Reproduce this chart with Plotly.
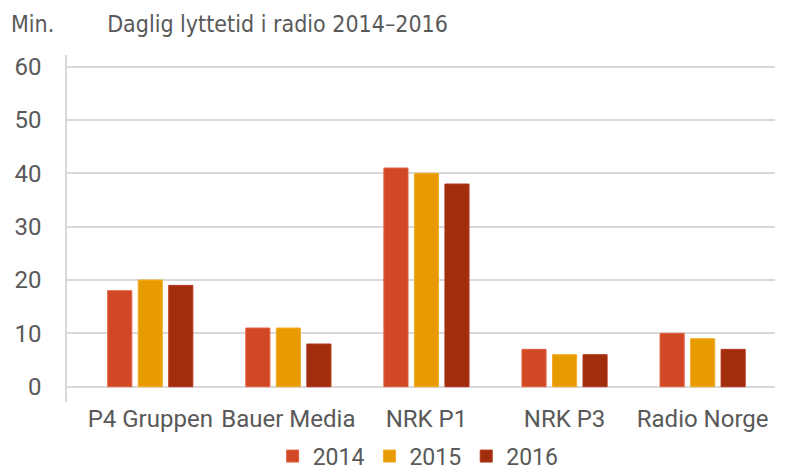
import plotly.graph_objects as go

categories = ["P4 Gruppen", "Bauer Media", "NRK P1", "NRK P3", "Radio Norge"]
years = ["2014", "2015", "2016"]
values_2014 = [18, 11, 41, 7, 10]
values_2015 = [20, 11, 40, 6, 9]
values_2016 = [19, 8, 38, 6, 7]
y_ticks = [0, 10, 20, 30, 40, 50, 60]

series = [values_2014, values_2015, values_2016]
fills = ["#D14826", "#E89B00", "#A02D0C"]
outlines = ["#E2603F", "#F2AC2A", "#B5381A"]

fig = go.Figure()
for name, vals, fc, lc in zip(years, series, fills, outlines):
    fig.add_trace(go.Bar(
        x=categories, y=vals, name=name,
        marker=dict(color=fc, line=dict(color=lc, width=1)),
    ))

gray = "#595959"
title_font = "DejaVu Sans Condensed, Roboto, sans-serif"
fig.update_layout(
    width=779, height=467,
    margin=dict(l=59, r=12, t=47, b=73, autoexpand=False),
    paper_bgcolor="white", plot_bgcolor="white",
    barmode="group", bargap=0.337, bargroupgap=0.21,
    font=dict(family="Roboto", color=gray),
    title=dict(
        text="Daglig lyttetid i radio 2014\u20132016",
        x=0.346, xanchor="center", xref="container",
        y=0.9657, yanchor="middle", yref="container",
        font=dict(family=title_font, size=23, color=gray),
    ),
    showlegend=True,
    legend=dict(
        orientation="h", x=0.496, xanchor="center", y=-0.156, yanchor="middle",
        font=dict(size=23, color=gray), traceorder="normal",
        itemwidth=30,
    ),
    xaxis=dict(
        range=[-0.603, 4.524], showgrid=False, showline=False, zeroline=False,
        tickfont=dict(size=24, color=gray), ticks="", automargin=False,
    ),
    yaxis=dict(
        range=[-2.87, 62.19], tickvals=y_ticks,
        showgrid=True, gridcolor="#D9D9D9", gridwidth=1.6,
        zeroline=True, zerolinecolor="#D9D9D9", zerolinewidth=1.6,
        showline=True, linecolor="#D9D9D9", linewidth=1.6,
        ticks="outside", ticklen=19, tickcolor="rgba(0,0,0,0)",
        tickfont=dict(size=24, color=gray), automargin=False,
    ),
    annotations=[dict(
        text="Min.", xref="paper", yref="paper", x=-0.082, xanchor="left",
        y=1.089, yanchor="middle", showarrow=False,
        font=dict(family=title_font, size=23, color=gray),
    )],
)

fig.write_html("out.html")
